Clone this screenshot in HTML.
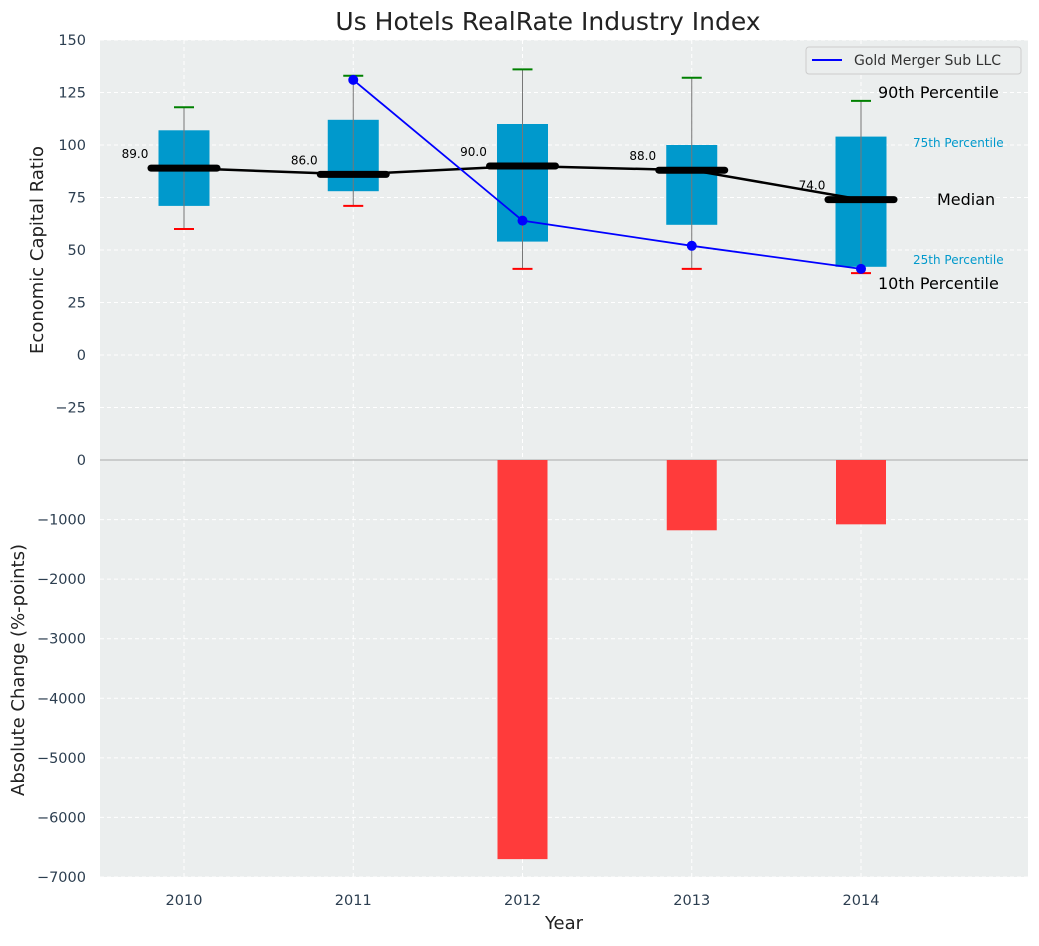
<!DOCTYPE html>
<html><head><meta charset="utf-8"><style>
body{margin:0;background:#fff;font-family:"DejaVu Sans","Liberation Sans",sans-serif}
</style></head><body>
<svg id="c" width="1039" height="942" xmlns="http://www.w3.org/2000/svg" font-family="DejaVu Sans, Liberation Sans, sans-serif"></svg>
<script>
const years=[2010,2011,2012,2013,2014];
const p10=[60,71,41,41,39];
const q1=[71,78,54,62,42];
const med=[89,86,90,88,74];
const q3=[107,112,110,100,104];
const p90=[118,133,136,132,121];
const goldYears=[2011,2012,2013,2014];
const goldVals=[131,64,52,41];
const chgYears=[2012,2013,2014];
const chgVals=[-6700,-1180,-1080];
const topTicks=[150,125,100,75,50,25,0,-25];
const botTicks=[0,-1000,-2000,-3000,-4000,-5000,-6000,-7000];

const svg=document.getElementById('c');
const NS='http://www.w3.org/2000/svg';
function el(t,a,p){const e=document.createElementNS(NS,t);for(const k in a)e.setAttribute(k,a[k]);(p||svg).appendChild(e);return e;}
const L=100,R=1028;
const X=v=>184+(v-2010)*169.25;
const YT=v=>355-v*2.1;
const YB=v=>460-v*0.05957;
const tc='#2c3e50';

let g=el('rect',{x:L,y:40,width:R-L,height:420,fill:'#ebeeee'});

g=el('rect',{x:L,y:460,width:R-L,height:417,fill:'#ebeeee'});


topTicks.forEach(t=>{const y=YT(t);el('line',{x1:L,x2:R,y1:y,y2:y,stroke:'#fff','stroke-dasharray':'4,3','stroke-width':1});
 const tx=el('text',{x:86,y:y+5,'text-anchor':'end','font-size':14.5,fill:tc});tx.textContent=t<0?'\u2212'+(-t):t;
 });
botTicks.forEach(t=>{const y=YB(t);el('line',{x1:L,x2:R,y1:y,y2:y,stroke:'#fff','stroke-dasharray':'4,3','stroke-width':1});
 const tx=el('text',{x:86,y:y+5,'text-anchor':'end','font-size':14.5,fill:tc});tx.textContent=t<0?'\u2212'+(-t):t;
 });
years.forEach(yr=>{const x=X(yr);el('line',{x1:x,x2:x,y1:40,y2:877,stroke:'#fff','stroke-dasharray':'4,3'});
 const tx=el('text',{x:x,y:905,'text-anchor':'middle','font-size':14.5,fill:tc});tx.textContent=yr;
 });
el('line',{x1:L,x2:R,y1:460,y2:460,stroke:'#aaa','stroke-width':1});

years.forEach((yr,i)=>{const x=X(yr),w=51;
 const b=el('rect',{x:x-w/2,y:YT(q3[i]),width:w,height:YT(q1[i])-YT(q3[i]),fill:'#0099cc'});
 
 el('line',{x1:x,x2:x,y1:YT(p10[i]),y2:YT(p90[i]),stroke:'#777','stroke-width':1});
 el('line',{x1:x-10,x2:x+10,y1:YT(p90[i]),y2:YT(p90[i]),stroke:'green','stroke-width':2});
 el('line',{x1:x-10,x2:x+10,y1:YT(p10[i]),y2:YT(p10[i]),stroke:'red','stroke-width':2});
});
let pl=el('polyline',{points:years.map((y,i)=>X(y)+','+YT(med[i])).join(' '),fill:'none',stroke:'#000','stroke-width':2.5});

years.forEach((yr,i)=>{const x=X(yr),y=YT(med[i]);
 const m=el('line',{x1:x-33,x2:x+33,y1:y,y2:y,stroke:'#000','stroke-width':7,'stroke-linecap':'round'});
 
 const t=el('text',{x:x-49,y:y-10,'text-anchor':'middle','font-size':12,fill:'#000'});t.textContent=med[i].toFixed(1);
 });
pl=el('polyline',{points:goldYears.map((y,i)=>X(y)+','+YT(goldVals[i])).join(' '),fill:'none',stroke:'blue','stroke-width':1.8});

goldYears.forEach((y,i)=>{const c=el('circle',{cx:X(y),cy:YT(goldVals[i]),r:5,fill:'blue'});
 });
const ann=[['90th Percentile',878,98,16,'#000'],['75th Percentile',913,147,12,'#0099cc'],['Median',937,205,16,'#000'],['25th Percentile',913,264,12,'#0099cc'],['10th Percentile',878,289,16,'#000']];
ann.forEach(a=>{const t=el('text',{x:a[1],y:a[2],'font-size':a[3],fill:a[4]});t.textContent=a[0];
 });
chgYears.forEach((yr,i)=>{const x=X(yr),w=50;const y0=YB(0),y1=YB(chgVals[i]);
 const b=el('rect',{x:x-w/2,y:y0,width:w,height:y1-y0,fill:'#ff3b3b'});
 });
g=el('g',{});
el('rect',{x:806,y:47,width:215,height:27,rx:3,fill:'#ebeeee',stroke:'#ccc'},g);
el('line',{x1:812,x2:842,y1:60,y2:60,stroke:'blue','stroke-width':2},g);
let t=el('text',{x:854,y:65,'font-size':14,fill:'#333'},g);t.textContent='Gold Merger Sub LLC';
t=el('text',{x:548,y:30,'text-anchor':'middle','font-size':25,fill:'#222'});t.textContent='Us Hotels RealRate Industry Index';

t=el('text',{x:564,y:929,'text-anchor':'middle','font-size':18,fill:'#222'});t.textContent='Year';

t=el('text',{x:0,y:0,'text-anchor':'middle','font-size':18,fill:'#222',transform:'translate(43,250) rotate(-90)'});t.textContent='Economic Capital Ratio';

t=el('text',{x:0,y:0,'text-anchor':'middle','font-size':18,fill:'#222',transform:'translate(24,670) rotate(-90)'});t.textContent='Absolute Change (%-points)';

</script>
</body></html>
